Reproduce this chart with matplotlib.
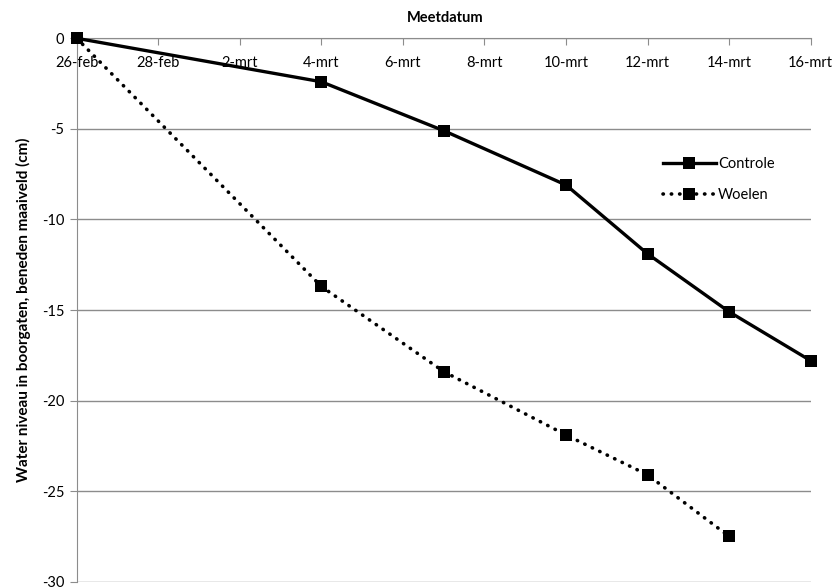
import numpy as np
import pandas as pd
import matplotlib
matplotlib.use("Agg")
import matplotlib.pyplot as plt

plt.rcParams['font.family'] = ['Lato', 'DejaVu Sans']

# meetdata (jaar zonder schrikkeldag)
controle_datum = ["2013-02-26", "2013-03-04", "2013-03-07", "2013-03-10",
                  "2013-03-12", "2013-03-14", "2013-03-16"]
controle = [0, -2.4, -5.1, -8.1, -11.9, -15.1, -17.8]

woelen_datum = ["2013-02-26", "2013-03-04", "2013-03-07", "2013-03-10",
                "2013-03-12", "2013-03-14"]
woelen = [0, -13.7, -18.4, -21.9, -24.1, -27.5]

tick_datum = pd.date_range("2013-02-26", "2013-03-16", freq="2D")
tick_labels = ["26-feb", "28-feb", "2-mrt", "4-mrt", "6-mrt", "8-mrt",
               "10-mrt", "12-mrt", "14-mrt", "16-mrt"]
y_ticks = [0, -5, -10, -15, -20, -25, -30]

fig = plt.figure(figsize=(8.38, 5.87), dpi=100)
ax = fig.add_axes([76.7/838, 1-581.7/587, (810.7-76.7)/838, (581.7-38.3)/587])

ax.plot(pd.to_datetime(controle_datum), controle, color="black", lw=2.4,
        marker="s", ms=9, mew=0, label="Controle", clip_on=False, zorder=3)
ax.plot(pd.to_datetime(woelen_datum), woelen, color="black", lw=2.6,
        ls=(0, (0.1, 2.2)), dash_capstyle="round", marker="s", ms=9, mew=0,
        label="Woelen", clip_on=False, zorder=3)

ax.set_xlim(tick_datum[0], tick_datum[-1])
ax.set_ylim(-30, 0)
ax.set_xticks(tick_datum)
ax.set_xticklabels(tick_labels)
ax.set_yticks(y_ticks)
ax.set_yticklabels([str(v) for v in y_ticks])

ax.yaxis.grid(True, color="#8c8c8c", lw=1)
ax.set_axisbelow(True)
for s in ["top", "right"]:
    ax.spines[s].set_visible(False)
ax.spines["bottom"].set_position(("data", 0))
ax.spines["bottom"].set_color("#8c8c8c")
ax.spines["left"].set_color("#8c8c8c")
ax.tick_params(axis="x", direction="out", length=5, color="#8c8c8c",
               labelsize=10.5, pad=8)
ax.tick_params(axis="y", direction="out", length=5, color="#8c8c8c",
               labelsize=10.5, pad=4)

ax.set_ylabel("Water niveau in boorgaten, beneden maaiveld (cm)",
              fontsize=11, fontweight="bold", labelpad=8)
fig.text(445/838, 1-18/587, "Meetdatum", ha="center", va="center",
         fontsize=10.5, fontweight="bold")

ax.legend(loc="upper left", bbox_to_anchor=(0.781, 0.805), frameon=False,
          fontsize=10.5, handlelength=3.6, handletextpad=0.15,
          labelspacing=1.15)

fig.savefig("out.png", dpi=100)
